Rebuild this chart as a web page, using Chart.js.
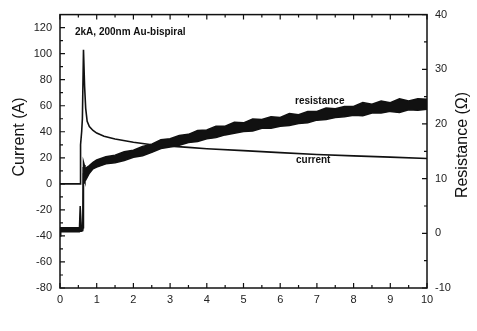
<!DOCTYPE html>
<html>
<head>
<meta charset="utf-8">
<script src="https://cdn.jsdelivr.net/npm/chart.js@4.4.0/dist/chart.umd.min.js"></script>
<style>
    html, body { margin: 0; padding: 0; background: #fff; }
    canvas { display: block; }
</style>
</head>
<body>
<canvas id="chart" width="477" height="331" style="width:477px;height:331px"></canvas>
<script>
// current trace (left axis, A)
const currentTime = [0, 0.55, 0.56, 0.59, 0.61, 0.64, 0.67, 0.70, 0.74, 0.80, 0.90, 1.0, 1.2, 1.5, 2.0, 2.5, 3.0, 3.5, 4.0, 5.0, 6.0, 7.0, 8.0, 9.0, 10.0];
const currentVals = [0, 0, 30, 40, 50, 103, 75, 58, 48, 44, 41, 39, 36.5, 34.5, 32, 30, 29, 28, 27, 25.5, 24, 22.5, 21.5, 20.5, 19.5];

// resistance trace (right axis, Ohm) - noisy band, lower and upper edge
const resTime = [0, 0.02, 0.53, 0.55, 0.58, 0.62, 0.63, 0.64, 0.66, 0.68, 0.72, 0.8, 0.9,
    1.0, 1.25, 1.5, 1.75, 2.0, 2.25, 2.5, 2.75, 3.0, 3.25, 3.5, 3.75, 4.0, 4.25, 4.5, 4.75, 5.0,
    5.25, 5.5, 5.75, 6.0, 6.25, 6.5, 6.75, 7.0, 7.25, 7.5, 7.75, 8.0, 8.25, 8.5, 8.75, 9.0, 9.25, 9.5, 9.75, 10.0];
const resLow = [-0.5, 0.3, 0.3, 0.4, 0.4, 0.5, 1, 11, 10, 9.5, 10, 11, 11.8,
    12.1, 12.7, 12.9, 13.3, 13.9, 14.2, 14.8, 15.5, 15.8, 16.1, 16.6, 16.8, 17.3, 17.5, 18.0, 18.3, 18.6,
    18.7, 19.2, 19.2, 19.6, 19.7, 20.1, 20.2, 20.7, 20.8, 21.2, 21.3, 21.6, 21.5, 22.0, 22.0, 22.3, 22.1, 22.6, 22.5, 22.7];
const resHigh = [1.0, 1.0, 1.0, 5, 1.3, 1.3, 12, 13, 12.5, 11.5, 12, 12.4, 13.0,
    13.4, 14.0, 14.3, 14.9, 15.2, 15.9, 16.3, 17.1, 17.3, 17.9, 18.1, 18.8, 18.9, 19.6, 19.6, 20.3, 20.2,
    20.9, 20.8, 21.3, 21.2, 21.9, 21.7, 22.3, 22.3, 22.9, 22.8, 23.2, 23.2, 23.9, 23.6, 24.2, 23.9, 24.6, 24.2, 24.6, 24.5];

// axis ticks
const xTicks = [0, 1, 2, 3, 4, 5, 6, 7, 8, 9, 10];
const leftTicks = [-80, -60, -40, -20, 0, 20, 40, 60, 80, 100, 120];
const rightTicks = [-10, 0, 10, 20, 30, 40];

const FONT = 'Arial, "Liberation Sans", sans-serif';

function pts(xs, ys) {
    return xs.map((x, i) => ({ x: x, y: ys[i] }));
}

function fixTicks(list) {
    return scale => { scale.ticks = list.map(v => ({ value: v })); };
}

// inward tick marks, frame and text labels
const decorPlugin = {
    id: 'decor',
    afterDraw(chart) {
        const ctx = chart.ctx;
        const a = chart.chartArea;
        const sx = chart.scales.x, sl = chart.scales.y, sr = chart.scales.y2;

        ctx.save();
        ctx.strokeStyle = '#111';
        ctx.lineWidth = 1.5;
        ctx.strokeRect(a.left, a.top, a.right - a.left, a.bottom - a.top);

        ctx.lineWidth = 1.2;
        ctx.beginPath();
        const mark = (vals, fn) => {
            for (let i = 0; i < vals.length; i++) {
                fn(vals[i], 5);
                if (i < vals.length - 1) fn((vals[i] + vals[i + 1]) / 2, 3);
            }
        };
        mark(xTicks, (v, len) => {
            const px = sx.getPixelForValue(v);
            ctx.moveTo(px, a.bottom); ctx.lineTo(px, a.bottom - len);
            ctx.moveTo(px, a.top); ctx.lineTo(px, a.top + len);
        });
        mark(leftTicks, (v, len) => {
            const py = sl.getPixelForValue(v);
            ctx.moveTo(a.left, py); ctx.lineTo(a.left + len, py);
        });
        mark(rightTicks, (v, len) => {
            const py = sr.getPixelForValue(v);
            ctx.moveTo(a.right, py); ctx.lineTo(a.right - len, py);
        });
        ctx.stroke();

        ctx.fillStyle = '#111';
        ctx.textBaseline = 'middle';
        ctx.textAlign = 'left';
        ctx.font = 'bold 10px ' + FONT;
        ctx.fillText('2kA, 200nm Au-bispiral', 75, 32);
        ctx.fillText('resistance', 295, 101);
        ctx.fillText('current', 296, 160);

        ctx.font = '16px ' + FONT;
        ctx.textAlign = 'center';
        ctx.translate(20, 137);
        ctx.rotate(-Math.PI / 2);
        ctx.fillText('Current (A)', 0, 0);
        ctx.setTransform(1, 0, 0, 1, 0, 0);
        ctx.translate(463, 145);
        ctx.rotate(-Math.PI / 2);
        ctx.fillText('Resistance (\u03A9)', 0, 0);
        ctx.restore();
    }
};

const tickFont = { family: FONT, size: 11 };

new Chart(document.getElementById('chart'), {
    type: 'line',
    data: {
        datasets: [
            {
                label: 'current',
                data: pts(currentTime, currentVals),
                yAxisID: 'y',
                borderColor: '#111',
                borderWidth: 1.6,
                pointRadius: 0,
                fill: false
            },
            {
                label: 'resistance low',
                data: pts(resTime, resLow),
                yAxisID: 'y2',
                borderColor: '#111',
                borderWidth: 1.5,
                pointRadius: 0,
                fill: false
            },
            {
                label: 'resistance high',
                data: pts(resTime, resHigh),
                yAxisID: 'y2',
                borderColor: '#111',
                backgroundColor: '#111',
                borderWidth: 1.5,
                pointRadius: 0,
                fill: '-1'
            }
        ]
    },
    options: {
        responsive: false,
        animation: false,
        devicePixelRatio: 1,
        layout: { padding: { top: 13, left: 0, right: 0, bottom: 0 } },
        plugins: { legend: { display: false }, tooltip: { enabled: false } },
        elements: { line: { tension: 0 } },
        scales: {
            x: {
                type: 'linear',
                min: 0, max: 10,
                afterBuildTicks: fixTicks(xTicks),
                afterFit: s => { s.height = 43; },
                grid: { display: false, drawTicks: false },
                border: { display: false },
                ticks: { color: '#222', font: tickFont, padding: 5, maxRotation: 0 }
            },
            y: {
                type: 'linear',
                position: 'left',
                min: -80, max: 130,
                afterBuildTicks: fixTicks(leftTicks),
                afterFit: s => { s.width = 60; },
                grid: { display: false, drawTicks: false },
                border: { display: false },
                ticks: { color: '#222', font: tickFont, padding: 8 }
            },
            y2: {
                type: 'linear',
                position: 'right',
                min: -10, max: 40,
                afterBuildTicks: fixTicks(rightTicks),
                afterFit: s => { s.width = 50; },
                grid: { display: false, drawTicks: false },
                border: { display: false },
                ticks: { color: '#222', font: tickFont, padding: 8 }
            }
        }
    },
    plugins: [decorPlugin]
});
</script>
</body>
</html>
